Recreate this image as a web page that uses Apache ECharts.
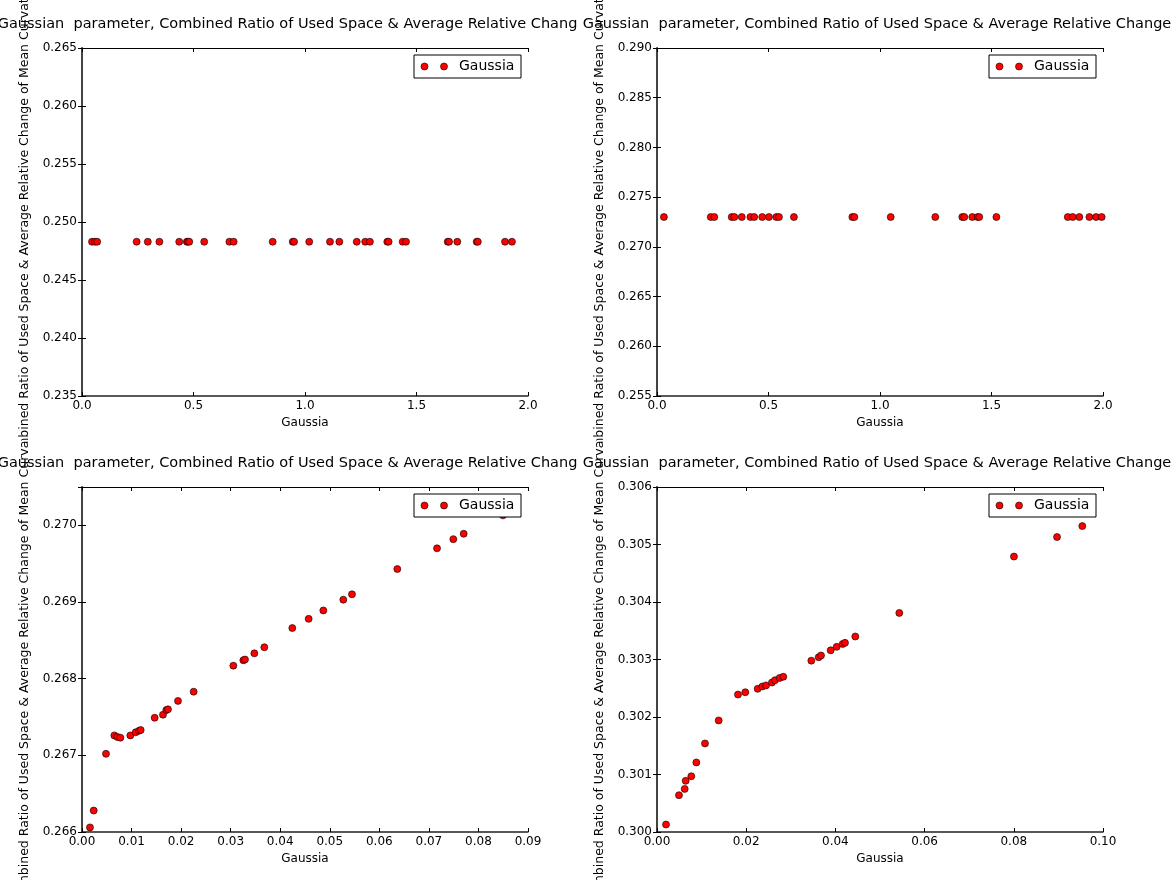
<!DOCTYPE html>
<html>
<head>
<meta charset="utf-8">
<script src="https://cdn.jsdelivr.net/npm/echarts@6/dist/echarts.min.js"></script>
<style>
  html, body { margin: 0; padding: 0; background: #fff; }
  #wrap { position: relative; width: 1176px; height: 880px; overflow: hidden; background: #fff; }
  .tile { position: absolute; height: 440px; }
</style>
</head>
<body>
<div id="wrap">
  <div class="tile" id="p1" style="left:0;top:0;width:578px"></div>
  <div class="tile" id="p2" style="left:575px;top:0;width:601px"></div>
  <div class="tile" id="p3" style="left:0;top:440px;width:578px"></div>
  <div class="tile" id="p4" style="left:575px;top:440px;width:601px"></div>
</div>
<script>
// ---- text ----
const titleText = 'Gaussian  parameter, Combined Ratio of Used Space & Average Relative Change';
const yAxisName = 'Combined Ratio of Used Space & Average Relative Change of Mean Curvature';
const xAxisName = 'Gaussia';
const legendName = 'Gaussia';

// ---- panel 1 (top left) ----
const xA = [0.045, 0.058, 0.068, 0.245, 0.295, 0.347, 0.436, 0.470, 0.475, 0.481, 0.548,
            0.661, 0.680, 0.855, 0.945, 0.951, 1.019, 1.112, 1.154, 1.232, 1.270, 1.291,
            1.369, 1.375, 1.438, 1.453, 1.640, 1.646, 1.683, 1.770, 1.775, 1.897, 1.928];
const yA = [0.2483, 0.2483, 0.2483, 0.2483, 0.2483, 0.2483, 0.2483, 0.2483, 0.2483, 0.2483, 0.2483,
            0.2483, 0.2483, 0.2483, 0.2483, 0.2483, 0.2483, 0.2483, 0.2483, 0.2483, 0.2483, 0.2483,
            0.2483, 0.2483, 0.2483, 0.2483, 0.2483, 0.2483, 0.2483, 0.2483, 0.2483, 0.2483, 0.2483];
const xTicksA = [0, 0.5, 1.0, 1.5, 2.0];
const yTicksA = [0.235, 0.240, 0.245, 0.250, 0.255, 0.260, 0.265];

// ---- panel 2 (top right) ----
const xB = [0.031, 0.241, 0.257, 0.335, 0.347, 0.380, 0.419, 0.436, 0.472, 0.502, 0.535,
            0.547, 0.614, 0.876, 0.885, 1.048, 1.248, 1.369, 1.378, 1.414, 1.438, 1.445,
            1.522, 1.842, 1.864, 1.894, 1.939, 1.969, 1.994];
const yB = [0.2730, 0.2730, 0.2730, 0.2730, 0.2730, 0.2730, 0.2730, 0.2730, 0.2730, 0.2730, 0.2730,
            0.2730, 0.2730, 0.2730, 0.2730, 0.2730, 0.2730, 0.2730, 0.2730, 0.2730, 0.2730, 0.2730,
            0.2730, 0.2730, 0.2730, 0.2730, 0.2730, 0.2730, 0.2730];
const xTicksB = [0, 0.5, 1.0, 1.5, 2.0];
const yTicksB = [0.255, 0.260, 0.265, 0.270, 0.275, 0.280, 0.285, 0.290];

// ---- panel 3 (bottom left) ----
const xC = [0.00161, 0.00236, 0.00484, 0.00653, 0.00713, 0.00774, 0.00975, 0.01083, 0.01150,
            0.01184, 0.01466, 0.01634, 0.01702, 0.01735, 0.01937, 0.02253, 0.03054, 0.03256,
            0.03289, 0.03478, 0.03679, 0.04244, 0.04574, 0.04870, 0.05273, 0.05448, 0.06363,
            0.07164, 0.07493, 0.07702, 0.08495];
const yC = [0.26606, 0.26628, 0.26702, 0.26726, 0.26724, 0.26723, 0.26726, 0.26730, 0.26732,
            0.26733, 0.26749, 0.26753, 0.26759, 0.26760, 0.26771, 0.26783, 0.26817, 0.26824,
            0.26825, 0.26833, 0.26841, 0.26866, 0.26878, 0.26889, 0.26903, 0.26910, 0.26943,
            0.26970, 0.26982, 0.26989, 0.27013];
const xTicksC = [0, 0.01, 0.02, 0.03, 0.04, 0.05, 0.06, 0.07, 0.08, 0.09];
const yTicksC = [0.266, 0.267, 0.268, 0.269, 0.270];

// ---- panel 4 (bottom right) ----
const xD = [0.00202, 0.00493, 0.00621, 0.00643, 0.00769, 0.00882, 0.01076, 0.01383, 0.01816,
            0.01980, 0.02257, 0.02361, 0.02444, 0.02578, 0.02646, 0.02751, 0.02832, 0.03460,
            0.03625, 0.03677, 0.03894, 0.04029, 0.04163, 0.04215, 0.04446, 0.05433, 0.08004,
            0.08969, 0.09536];
const yD = [0.30013, 0.30064, 0.30075, 0.30089, 0.30097, 0.30121, 0.30154, 0.30194, 0.30239,
            0.30243, 0.30249, 0.30253, 0.30255, 0.30260, 0.30264, 0.30268, 0.30270, 0.30298,
            0.30304, 0.30307, 0.30316, 0.30322, 0.30327, 0.30329, 0.30340, 0.30381, 0.30479,
            0.30513, 0.30532];
const xTicksD = [0, 0.02, 0.04, 0.06, 0.08, 0.10];
const yTicksD = [0.300, 0.301, 0.302, 0.303, 0.304, 0.305, 0.306];

const FONT = 'DejaVu Sans';
const INK = '#000';

// label formatter: only values lying on the tick grid get text
function onGrid(step, dec) {
  return function (v) {
    const k = v / step;
    return Math.abs(k - Math.round(k)) < 1e-6 ? v.toFixed(dec) : '';
  };
}

function buildOption(xs, ys, xTicks, yTicks, opts) {
  const xStep = xTicks[1] - xTicks[0];
  const yStep = yTicks[1] - yTicks[0];
  const xMin = xTicks[0], xMax = xTicks[xTicks.length - 1];
  const yMin = yTicks[0], yMax = opts.yMax !== undefined ? opts.yMax : yTicks[yTicks.length - 1];
  const grid = { left: 82, top: opts.top, width: 446, height: opts.height, show: false,
                 containLabel: false, outerBoundsMode: 'none' };
  const tick = { show: true, inside: true, length: 4, lineStyle: { color: INK, width: 1 } };
  const baseX = {
    type: 'value', min: xMin, max: xMax, interval: xStep,
    splitLine: { show: false }
  };
  const baseY = {
    type: 'value', min: yMin, max: yMax, interval: yStep,
    splitLine: { show: false }
  };
  const data = xs.map((x, i) => [x, ys[i]]);
  const lx = 414, ly = opts.legendTop;
  const LZ = 100;
  return {
    animation: false,
    backgroundColor: 'transparent',
    grid: grid,
    xAxis: [
      Object.assign({}, baseX, {
        position: 'bottom',
        name: xAxisName, nameLocation: 'middle', nameGap: 19,
        nameTextStyle: { color: INK, fontFamily: FONT, fontSize: 12 },
        axisLine: { show: true, lineStyle: { color: '#222', width: 1.5 } },
        axisTick: tick,
        axisLabel: { color: INK, fontFamily: FONT, fontSize: 12, margin: 4,
                     formatter: onGrid(xStep, opts.xDec) }
      }),
      Object.assign({}, baseX, {
        position: 'top',
        axisLine: { show: true, lineStyle: { color: INK, width: 1 } },
        axisTick: tick,
        axisLabel: { show: false }
      })
    ],
    yAxis: [
      Object.assign({}, baseY, {
        position: 'left',
        name: yAxisName, nameLocation: 'middle', nameGap: 49, nameRotate: 90,
        nameTextStyle: { color: INK, fontFamily: FONT, fontSize: 12.5 },
        axisLine: { show: true, lineStyle: { color: INK, width: 1 } },
        axisTick: tick,
        axisLabel: { color: INK, fontFamily: FONT, fontSize: 12, margin: 5,
                     formatter: onGrid(yStep, 3) }
      }),
      Object.assign({}, baseY, {
        position: 'right',
        axisLine: { show: true, lineStyle: { color: '#444', width: 2 } },
        axisTick: tick,
        axisLabel: { show: false }
      })
    ],
    series: [{
      name: legendName,
      type: 'scatter',
      xAxisIndex: 0, yAxisIndex: 0,
      symbol: 'circle', symbolSize: 7,
      itemStyle: { color: '#ff0000', borderColor: '#000', borderWidth: 0.6, opacity: 1 },
      data: data
    }],
    graphic: [
      {
        type: 'text', x: opts.titleX, y: opts.titleY, z: 50,
        style: { text: titleText, fill: INK, font: '14.5px "DejaVu Sans"',
                 textAlign: 'center', textVerticalAlign: 'middle' }
      },
      { type: 'rect', z: LZ, shape: { x: lx, y: ly, width: 107, height: 23 },
        style: { fill: '#fff', stroke: INK, lineWidth: 1 } },
      { type: 'circle', z: LZ + 1, shape: { cx: lx + 10.5, cy: ly + 11.5, r: 3.5 },
        style: { fill: '#ff0000', stroke: '#000', lineWidth: 0.6 } },
      { type: 'circle', z: LZ + 1, shape: { cx: lx + 30, cy: ly + 11.5, r: 3.5 },
        style: { fill: '#ff0000', stroke: '#000', lineWidth: 0.6 } },
      { type: 'text', z: LZ + 1, x: lx + 45, y: ly + 11.5,
        style: { text: legendName, fill: INK, font: '14px "DejaVu Sans"',
                 textAlign: 'left', textVerticalAlign: 'middle' } }
    ]
  };
}

const panels = [
  ['p1', xA, yA, xTicksA, yTicksA, { top: 48, height: 348, xDec: 1, titleX: 292, titleY: 24, legendTop: 55 }],
  ['p2', xB, yB, xTicksB, yTicksB, { top: 48, height: 348, xDec: 1, titleX: 302, titleY: 24, legendTop: 55 }],
  ['p3', xC, yC, xTicksC, yTicksC, { top: 47, height: 345, xDec: 2, titleX: 292, titleY: 23, legendTop: 54, yMax: 0.2705 }],
  ['p4', xD, yD, xTicksD, yTicksD, { top: 47, height: 345, xDec: 2, titleX: 302, titleY: 23, legendTop: 54 }]
];

panels.forEach(function (p) {
  const chart = echarts.init(document.getElementById(p[0]), null, { renderer: 'canvas' });
  chart.setOption(buildOption(p[1], p[2], p[3], p[4], p[5]));
});
</script>
</body>
</html>
